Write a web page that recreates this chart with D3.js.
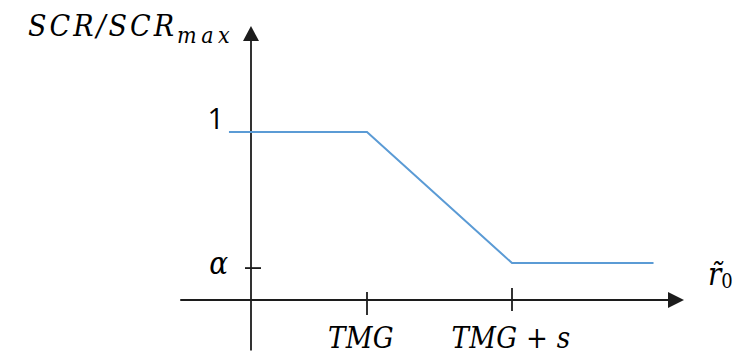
<!DOCTYPE html>
<html lang="en">
  <head>
    <meta charset="utf-8">
    <script src="https://d3js.org/d3.v7.min.js"></script>
    <style>
      body { margin: 0; background: #fff; }
      .math { font-family: "DejaVu Serif Condensed", "DejaVu Serif", serif; font-stretch: condensed; font-style: italic; fill: #000; }
    </style>
  </head>
  <body>
    <svg id="chart"></svg>
    <script>
      // piecewise SCR ratio against r0 (x in units of TMG)
      var lineX = [-0.19, 1, 2.25, 3.47];
      var lineY = [1, 1, 0.22, 0.22];

      var xTickValues = [1, 2.25];
      var xTickLabels = ["TMG", "TMG + s"];
      var yTickValues = [1, 0.19];
      var yTickLabels = ["1", "α"];

      var width = 745, height = 354;
      var svg = d3.select("#chart").attr("width", width).attr("height", height);

      var x = d3.scaleLinear().domain([0, 1]).range([251, 367]);
      var y = d3.scaleLinear().domain([0, 1]).range([300, 132]);

      var axisColor = "#1c1c1c";

      // x axis line + arrow
      var xEnd = x.invert(684);
      svg.append("line")
        .attr("x1", x(-0.61)).attr("x2", x(xEnd) - 10)
        .attr("y1", y(0)).attr("y2", y(0))
        .attr("stroke", axisColor).attr("stroke-width", 1.8);
      svg.append("polygon")
        .attr("points", [[x(xEnd), y(0)], [x(xEnd) - 16, y(0) - 8], [x(xEnd) - 16, y(0) + 8]].join(" "))
        .attr("fill", axisColor);

      // y axis line + arrow
      var yEnd = y.invert(26);
      svg.append("line")
        .attr("x1", x(0)).attr("x2", x(0))
        .attr("y1", y(-0.3)).attr("y2", y(yEnd) + 10)
        .attr("stroke", axisColor).attr("stroke-width", 1.8);
      svg.append("polygon")
        .attr("points", [[x(0), y(yEnd)], [x(0) - 8, y(yEnd) + 15], [x(0) + 8, y(yEnd) + 15]].join(" "))
        .attr("fill", axisColor);

      // x ticks
      var xTickUp = [8, 12], xTickDown = [15, 11];
      svg.selectAll(".xtick")
        .data(xTickValues)
        .enter()
        .append("line")
        .attr("x1", function(d) { return x(d); })
        .attr("x2", function(d) { return x(d); })
        .attr("y1", function(d, i) { return y(0) - xTickUp[i]; })
        .attr("y2", function(d, i) { return y(0) + xTickDown[i]; })
        .attr("stroke", axisColor).attr("stroke-width", 1.8);

      svg.selectAll(".xlabel")
        .data(xTickValues)
        .enter()
        .append("text")
        .attr("class", "math")
        .attr("x", function(d, i) { return x(d) - (i === 0 ? 6 : 1); })
        .attr("y", 348)
        .attr("text-anchor", "middle")
        .attr("font-size", 29)
        .attr("letter-spacing", 0.3)
        .text(function(d, i) { return xTickLabels[i]; });

      // alpha tick (no tick drawn for 1)
      svg.append("line")
        .attr("x1", x(0) - 6).attr("x2", x(0) + 10)
        .attr("y1", y(yTickValues[1])).attr("y2", y(yTickValues[1]))
        .attr("stroke", axisColor).attr("stroke-width", 1.8);

      svg.append("text")
        .attr("x", 224).attr("y", y(yTickValues[0]) - 3)
        .attr("text-anchor", "end")
        .attr("font-family", "'Open Sans', sans-serif")
        .attr("font-size", 29)
        .attr("fill", "#000")
        .text(yTickLabels[0]);

      svg.append("text")
        .attr("class", "math")
        .attr("x", 228).attr("y", y(yTickValues[1]) + 6)
        .attr("text-anchor", "end")
        .attr("font-size", 31)
        .text(yTickLabels[1]);

      // the curve
      var pts = lineX.map(function(d, i) { return [d, lineY[i]]; });
      svg.append("path")
        .datum(pts)
        .attr("d", d3.line().x(function(d) { return x(d[0]); }).y(function(d) { return y(d[1]); }))
        .attr("fill", "none")
        .attr("stroke", "#5b9bd5")
        .attr("stroke-width", 2);

      // y axis title
      var title = svg.append("text")
        .attr("class", "math")
        .attr("x", 28).attr("y", 36)
        .attr("font-size", 30)
        .attr("letter-spacing", 3);
      title.append("tspan").text("SCR/SCR");
      title.append("tspan")
        .attr("font-size", 23)
        .attr("letter-spacing", 4.5)
        .attr("dy", 7)
        .text("max");

      // x axis title r~0
      var rt = svg.append("text")
        .attr("class", "math")
        .attr("x", 708).attr("y", 285)
        .attr("font-size", 31);
      rt.append("tspan").text("r\u0303");
      rt.append("tspan")
        .attr("font-style", "normal")
        .attr("font-size", 20)
        .attr("dy", 3)
        .attr("dx", 0)
        .text("0");
    </script>
  </body>
</html>
